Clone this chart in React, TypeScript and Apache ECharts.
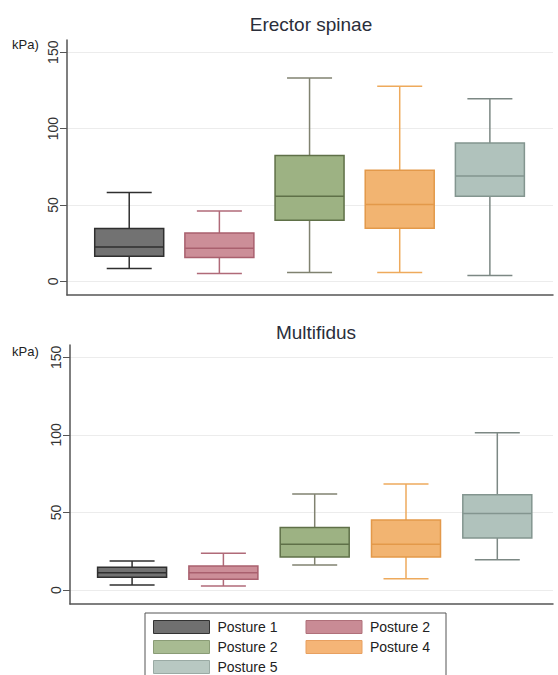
import React, { useEffect, useRef } from "react";
import * as echarts from "echarts";

// ---- Data ----
const X_POS = [1, 2, 3, 4, 5];
const SERIES_NAMES = ["P1", "P2", "P3", "P4", "P5"];
const LEGEND_LABELS = ["Posture 1", "Posture 2", "Posture 2", "Posture 4", "Posture 5"];
const PANEL_TITLES = ["Erector spinae", "Multifidus"];
const Y_TICKS = [0, 50, 100, 150];

// Erector spinae
const ES_MIN = [8.3, 5.0, 5.7, 5.7, 3.7];
const ES_Q1 = [16.4, 15.5, 40.0, 34.7, 55.7];
const ES_MED = [22.5, 21.6, 55.7, 50.2, 69.0];
const ES_Q3 = [34.5, 31.6, 82.3, 72.7, 90.6];
const ES_MAX = [58.2, 46.0, 133.1, 127.7, 119.6];

// Multifidus
const MF_MIN = [3.2, 2.6, 16.2, 7.3, 19.6];
const MF_Q1 = [8.2, 6.9, 21.3, 21.3, 33.6];
const MF_MED = [11.2, 11.2, 29.5, 29.5, 49.3];
const MF_Q3 = [14.7, 15.5, 40.3, 45.2, 61.4];
const MF_MAX = [18.7, 23.7, 61.9, 68.3, 101.5];

// ---- Styles ----
const FILLS = ["#727272", "#cc8e98", "#9db283", "#f2b471", "#b0c2bc"];
const STROKES = ["#2f2f2f", "#a9606e", "#5f7048", "#e3994a", "#83958f"];
const WHISKERS = ["#2f2f2f", "#b06a78", "#808270", "#eeaa5c", "#7c8884"];
const LEGEND_FILLS = ["#707070", "#c98b95", "#a8bb92", "#f5b577", "#b8c8c2"];
const LEGEND_BORDERS = ["#333333", "#b0707a", "#8a9c76", "#e8a060", "#9aaaa4"];
const FONT = "'Liberation Sans', Arial, Helvetica, sans-serif";
const BOX_W = 69;
const CAP_W = 45;

function makeRender(k: number) {
  return (params: any, api: any) => {
    const x = api.value(0);
    const lo = api.coord([x, api.value(1)]);
    const q1 = api.coord([x, api.value(2)]);
    const md = api.coord([x, api.value(3)]);
    const q3 = api.coord([x, api.value(4)]);
    const hi = api.coord([x, api.value(5)]);
    const cx = lo[0];
    const hb = BOX_W / 2;
    const hc = CAP_W / 2;
    const ws = { stroke: WHISKERS[k], lineWidth: 1.5 };
    return {
      type: "group",
      children: [
        { type: "line", shape: { x1: cx, y1: q3[1], x2: cx, y2: hi[1] }, style: ws },
        { type: "line", shape: { x1: cx - hc, y1: hi[1], x2: cx + hc, y2: hi[1] }, style: ws },
        { type: "line", shape: { x1: cx, y1: q1[1], x2: cx, y2: lo[1] }, style: ws },
        { type: "line", shape: { x1: cx - hc, y1: lo[1], x2: cx + hc, y2: lo[1] }, style: ws },
        {
          type: "rect",
          shape: { x: cx - hb, y: q3[1], width: BOX_W, height: q1[1] - q3[1] },
          style: { fill: FILLS[k], stroke: STROKES[k], lineWidth: 1.5 },
        },
        {
          type: "line",
          shape: { x1: cx - hb, y1: md[1], x2: cx + hb, y2: md[1] },
          style: { stroke: STROKES[k], lineWidth: 1.5 },
        },
      ],
    };
  };
}

export default function App() {
  const ref = useRef<HTMLDivElement>(null);
  useEffect(() => {
    if (!ref.current) return;
    const chart = echarts.init(ref.current, undefined, { renderer: "svg" });

    const panels = [
      { min: ES_MIN, q1: ES_Q1, med: ES_MED, q3: ES_Q3, max: ES_MAX },
      { min: MF_MIN, q1: MF_Q1, med: MF_MED, q3: MF_Q3, max: MF_MAX },
    ];

    const series: any[] = [];
    panels.forEach((p, pi) => {
      X_POS.forEach((xp, i) => {
        series.push({
          type: "custom",
          name: SERIES_NAMES[i],
          xAxisIndex: pi,
          yAxisIndex: pi,
          renderItem: makeRender(i),
          encode: { x: 0, y: [1, 2, 3, 4, 5] },
          itemStyle: { color: LEGEND_FILLS[i], borderColor: LEGEND_BORDERS[i] },
          data: [[xp, p.min[i], p.q1[i], p.med[i], p.q3[i], p.max[i]]],
          silent: true,
        });
      });
    });

    const yAxisBase = (gi: number) => ({
      type: "value",
      gridIndex: gi,
      min: -9,
      max: 158,
      axisLine: { show: true, lineStyle: { color: "#555", width: 1.5 } },
      axisTick: {
        show: true,
        customValues: Y_TICKS,
        length: 7,
        lineStyle: { color: "#555", width: 1 },
      },
      axisLabel: {
        customValues: Y_TICKS,
        rotate: 90,
        fontSize: 14,
        color: "#333",
        fontFamily: FONT,
        margin: 7,
      },
      splitLine: { show: true, lineStyle: { color: "#ececec", width: 1 } },
    });

    const xAxisBase = (gi: number, min: number, max: number) => ({
      type: "value",
      gridIndex: gi,
      min,
      max,
      axisLine: { show: true, onZero: false, lineStyle: { color: "#555", width: 1.5 } },
      axisTick: { show: false },
      axisLabel: { show: false },
      splitLine: { show: false },
    });

    chart.setOption({
      animation: false,
      backgroundColor: "#ffffff",
      textStyle: { fontFamily: FONT },
      title: [
        {
          text: PANEL_TITLES[0],
          left: 311,
          top: 15,
          padding: 0,
          textAlign: "center",
          textStyle: { fontSize: 19, fontWeight: "normal", color: "#2a2e3a", fontFamily: FONT },
        },
        {
          text: PANEL_TITLES[1],
          left: 316,
          top: 323,
          padding: 0,
          textAlign: "center",
          textStyle: { fontSize: 19, fontWeight: "normal", color: "#2a2e3a", fontFamily: FONT },
        },
      ],
      grid: [
        { left: 67, right: 5, top: 40, height: 255 },
        { left: 70, right: 5, top: 345, height: 259 },
      ],
      xAxis: [xAxisBase(0, 0.31, 5.7), xAxisBase(1, 0.32, 5.61)],
      yAxis: [yAxisBase(0), yAxisBase(1)],
      legend: {
        left: 145,
        top: 613,
        width: 290,
        padding: [4, 8, 8, 8],
        itemGap: 0,
        itemWidth: 56,
        itemHeight: 13,
        icon: "rect",
        borderColor: "#555",
        borderWidth: 1,
        selectedMode: false,
        formatter: (name: string) => LEGEND_LABELS[SERIES_NAMES.indexOf(name)],
        textStyle: { fontSize: 14, color: "#222", fontFamily: FONT, lineHeight: 20, padding: [0, 0, 0, 3] },
        data: SERIES_NAMES.map((n, i) => ({
          name: n,
          itemStyle: { color: LEGEND_FILLS[i], borderColor: LEGEND_BORDERS[i], borderWidth: 1 },
          textStyle: { width: i % 2 === 0 ? 88 : 68, padding: [0, 0, 0, 3] },
        })),
      },
      graphic: [
        { type: "text", left: 12, top: 38, style: { text: "kPa)", fontSize: 13, fill: "#222", font: `13px ${FONT}` } },
        { type: "text", left: 12, top: 345, style: { text: "kPa)", fontSize: 13, fill: "#222", font: `13px ${FONT}` } },
      ],
      series,
    });

    return () => chart.dispose();
  }, []);

  return (
    <div
      ref={ref}
      style={{ position: "fixed", left: 0, top: 0, width: 558, height: 675, background: "#fff" }}
    />
  );
}
